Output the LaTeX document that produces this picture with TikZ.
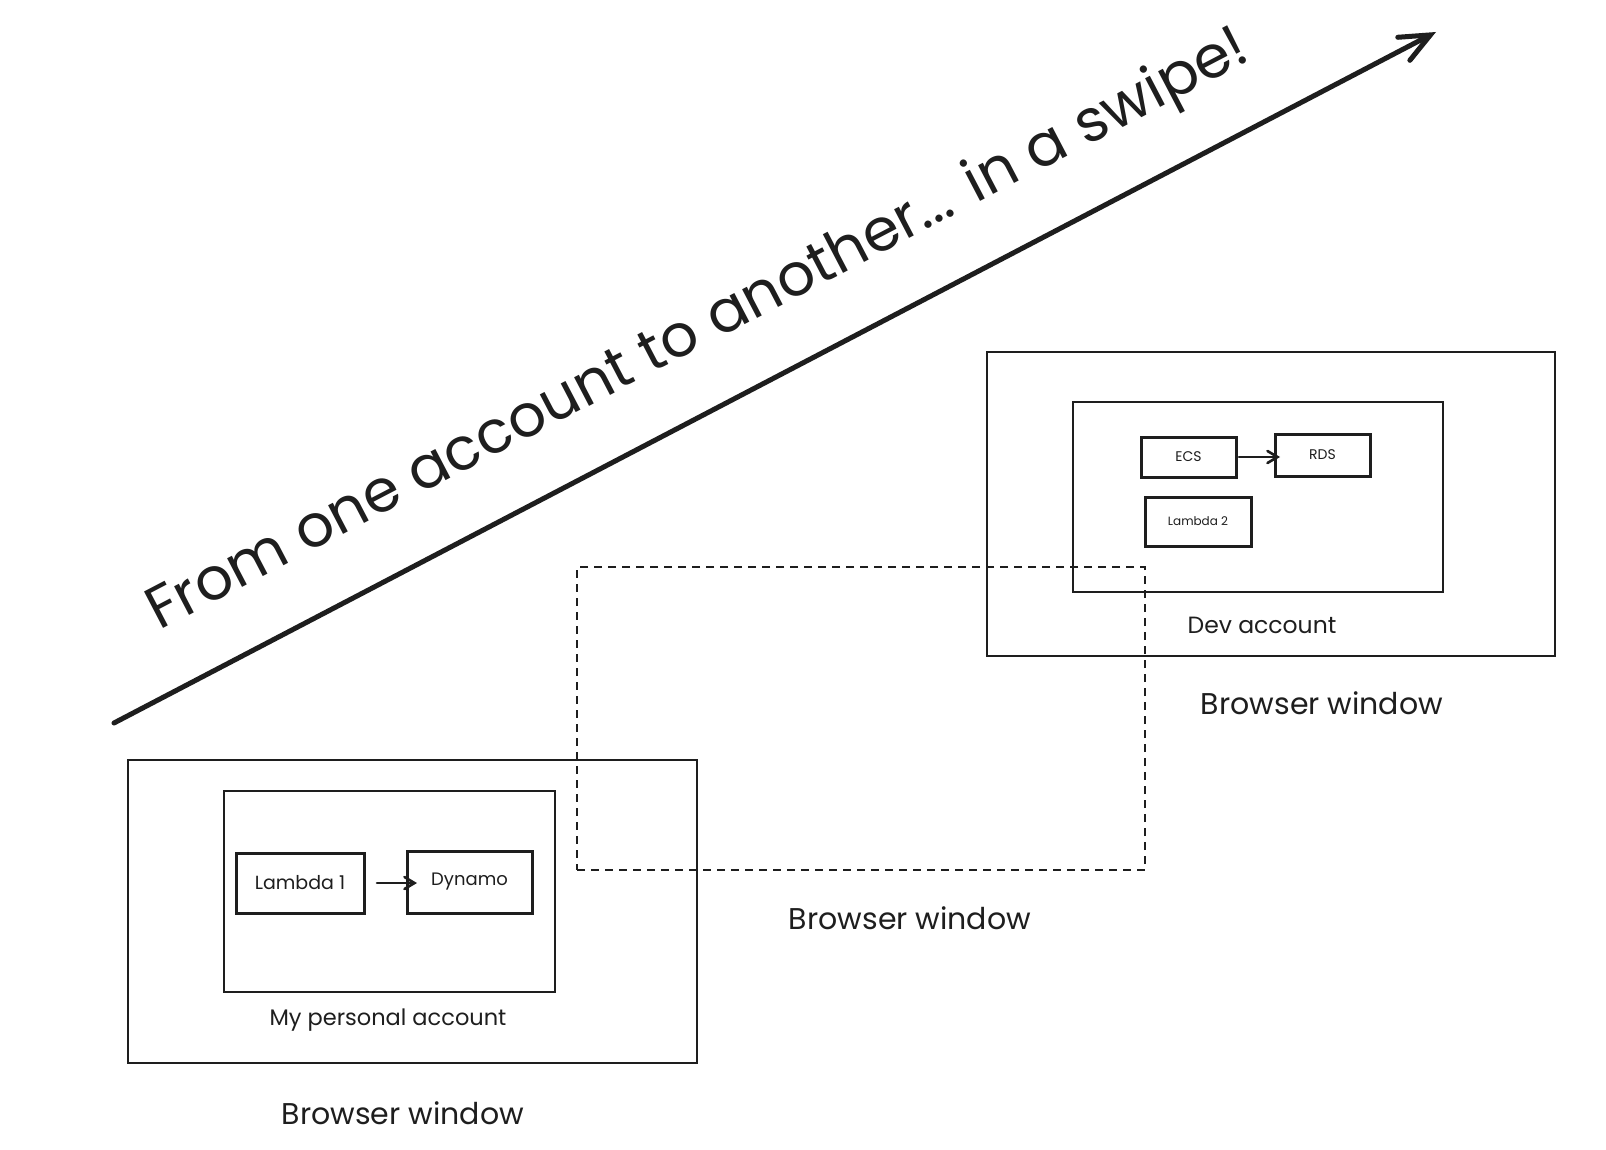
\documentclass[tikz,border=0pt]{standalone}
\usepackage{fontspec}
\setmainfont{Poppins}
\usetikzlibrary{arrows.meta}
\definecolor{ink}{HTML}{1E1E1E}
\begin{document}
\begin{tikzpicture}[x=1pt,y=-1pt,
  every node/.style={inner sep=0pt, outer sep=0pt, text=ink},
  winbox/.style={draw=ink, line width=1.6pt, anchor=north west},
  acctbox/.style={draw=ink, line width=1.4pt, anchor=north west},
  svcbox/.style={draw=ink, line width=3pt},
  lbl/.style={font=\fontsize{#1}{#1}\selectfont},
  flow/.style={draw=ink, line width=2.6pt, line cap=round,
    -{Straight Barb[length=10pt,width=12pt,line cap=round]}},
  swipe/.style={draw=ink, line width=5pt, line cap=round,
    -{Straight Barb[length=30pt,width=26pt,line cap=round]}}]
\useasboundingbox (0,0) rectangle (1606,1150);
\fill[white] (0,0) rectangle (1606,1150);

% dashed middle window
\node[draw=ink, line width=1.5pt, dash pattern=on 8pt off 6pt, anchor=north west,
  minimum width=568pt, minimum height=303pt] (mid) at (577,567) {};
\node[lbl=30] (midlbl) at (910,918) {Browser window};

% lower window
\node[winbox, minimum width=569pt, minimum height=303pt] (win1) at (128,760) {};
\node[acctbox, minimum width=331pt, minimum height=201pt] (acc1) at (224,791) {};
\node[svcbox, minimum width=128pt, minimum height=60pt, lbl=19] (l1) at (300,883) {Lambda 1};
\node[svcbox, minimum width=125pt, minimum height=62pt, lbl=18] (dyn) at (469.5,882) {Dynamo};
\draw[flow] ([xshift=13pt]l1.east) -- ([xshift=10pt]dyn.west |- l1.east);
\node[lbl=22.5] (acc1lbl) at (388,1020) {My personal account};
\node[lbl=30] (win1lbl) at (403,1113) {Browser window};

% upper window
\node[winbox, minimum width=568pt, minimum height=304pt] (win2) at (987,352) {};
\node[acctbox, minimum width=370pt, minimum height=190pt] (acc2) at (1073,402) {};
\node[svcbox, minimum width=95pt, minimum height=40pt, lbl=14] (ecs) at (1188.5,457) {ECS};
\node[svcbox, minimum width=95pt, minimum height=42pt, lbl=14] (rds) at (1322.5,455) {RDS};
\node[svcbox, minimum width=106pt, minimum height=49pt, lbl=12] (l2) at (1198,521.5) {Lambda 2};
\draw[flow] ([xshift=3pt]ecs.east) -- ([xshift=5pt]rds.west |- ecs.east);
\node[lbl=23.5] (acc2lbl) at (1262,625) {Dev account};
\node[lbl=30] (win2lbl) at (1322,703) {Browser window};

% swipe arrow
\coordinate (s0) at (114,723);
\coordinate (s1) at (1436,32);
\draw[swipe] (s0) -- (s1);
\node[lbl=59, rotate=27.6] (title) at (699,332) {From one account to another... in a swipe!};
\end{tikzpicture}
\end{document}
